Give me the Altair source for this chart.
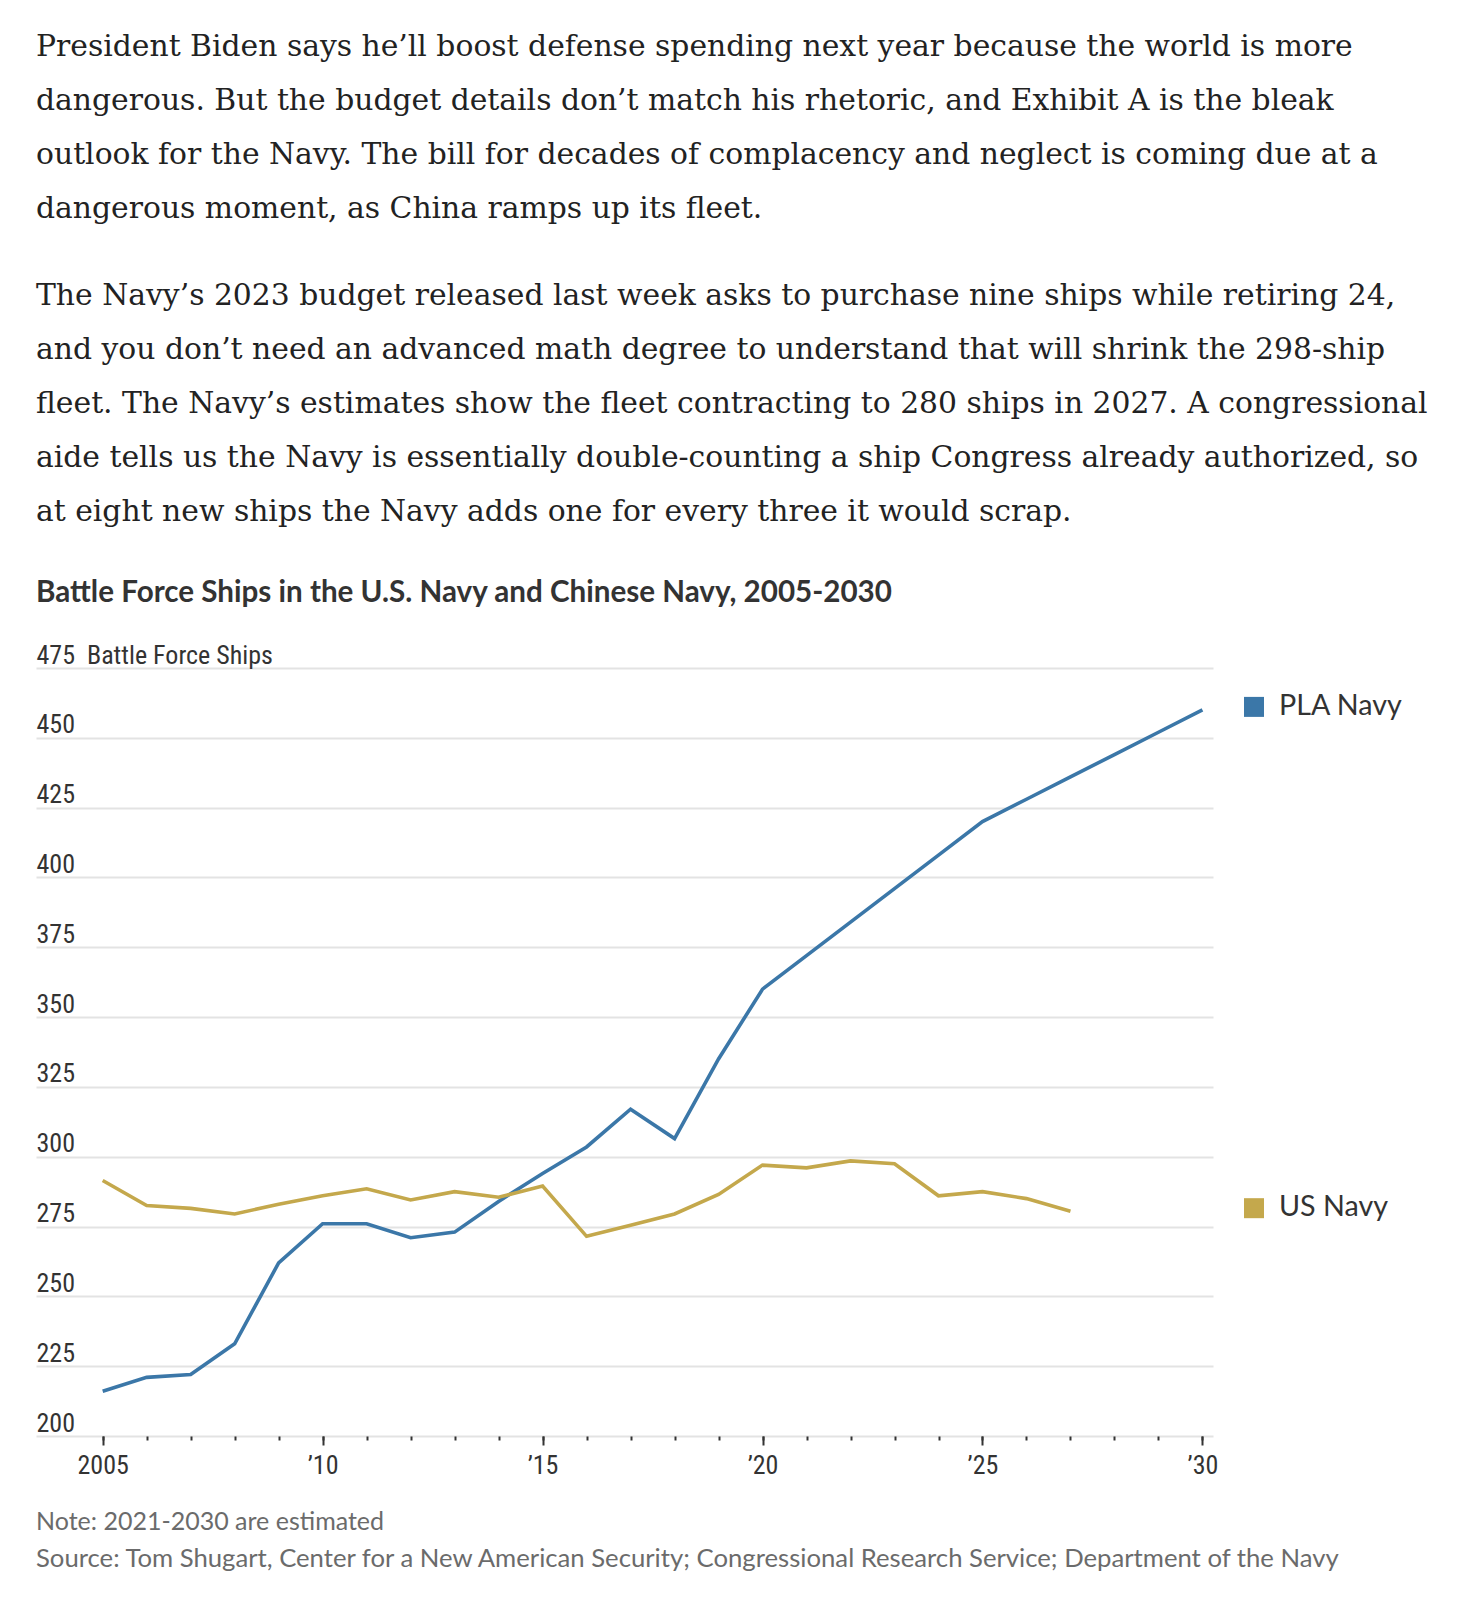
import altair as alt
import pandas as pd

# ---------------- data ----------------
pla_years = list(range(2005, 2031))
pla_ships = [216, 221, 222, 233, 262, 276, 276, 271, 273, 284, 294, 303.5, 317, 306.5,
             335, 360, 372, 384, 396, 408, 420, 428, 436, 444, 452, 460]
us_years = list(range(2005, 2028))
us_ships = [291.5, 282.5, 281.5, 279.5, 283, 286, 288.5, 284.5, 287.5, 285.5, 289.5, 271.5,
            275.5, 279.5, 286.5, 297, 296, 298.5, 297.5, 286, 287.5, 285, 280.5]
navies = ["PLA Navy", "US Navy"]
navy_colors = ["#3b77a8", "#c4a84c"]

major_years = [2005, 2010, 2015, 2020, 2025, 2030]
all_years = list(range(2005, 2031))
y_ticks = list(range(200, 476, 25))

paragraph1 = [
    "President Biden says he\u2019ll boost defense spending next year because the world is more",
    "dangerous. But the budget details don\u2019t match his rhetoric, and Exhibit A is the bleak",
    "outlook for the Navy. The bill for decades of complacency and neglect is coming due at a",
    "dangerous moment, as China ramps up its fleet.",
]
paragraph2 = [
    "The Navy\u2019s 2023 budget released last week asks to purchase nine ships while retiring 24,",
    "and you don\u2019t need an advanced math degree to understand that will shrink the 298-ship",
    "fleet. The Navy\u2019s estimates show the fleet contracting to 280 ships in 2027. A congressional",
    "aide tells us the Navy is essentially double-counting a ship Congress already authorized, so",
    "at eight new ships the Navy adds one for every three it would scrap.",
]
chart_title = "Battle Force Ships in the U.S. Navy and Chinese Navy, 2005-2030"
y_unit = "Battle Force Ships"
note_text = "Note: 2021-2030 are estimated"
source_text = ("Source: Tom Shugart, Center for a New American Security; "
               "Congressional Research Service; Department of the Navy")

df = pd.concat([
    pd.DataFrame({"year": pla_years, "ships": pla_ships, "navy": navies[0]}),
    pd.DataFrame({"year": us_years, "ships": us_ships, "navy": navies[1]}),
], ignore_index=True)

# ---------------- styling ----------------
NARROW = "Liberation Sans Narrow, Roboto Condensed, DejaVu Sans Condensed, Roboto, sans-serif"
SANS = "Lato, Roboto, sans-serif"
SERIF = "DejaVu Serif, serif"
INK = "#333333"
W, H = 1177, 768

x_scale = alt.Scale(domain=[2003.484, 2030.24], nice=False, zero=False)
y_scale = alt.Scale(domain=[200, 475], nice=False, zero=False)

y_axis = alt.Axis(
    values=y_ticks, title=None, grid=True, gridColor="#e3e3e3", gridWidth=2,
    domain=False, ticks=False, tickSize=0, labelPadding=0, labelAlign="left",
    labelBaseline="alphabetic", labelOffset=-5, labelFont=NARROW, labelFontSize=26,
    labelColor=INK, labelLimit=600,
    labelExpr=f"datum.value == 475 ? '475\u00a0\u00a0{y_unit}' : datum.label",
)
major_axis = alt.Axis(
    values=major_years, title=None, grid=False, domain=False, tickSize=9, tickWidth=2,
    tickColor=INK, labelFont=NARROW, labelFontSize=26, labelColor=INK,
    labelBaseline="alphabetic", labelPadding=28, labelFlush=False, orient="bottom",
    labelExpr="datum.value == 2005 ? '2005' : '\u2019' + substring(toString(datum.value), 2, 4)",
)
minor_axis = alt.Axis(
    values=all_years, title=None, grid=False, domain=False, tickSize=4, tickWidth=2,
    tickColor=INK, labels=False, orient="bottom",
)

color_enc = alt.Color("navy:N", scale=alt.Scale(domain=navies, range=navy_colors), legend=None)
y_enc = alt.Y("ships:Q", scale=y_scale, axis=y_axis)

lines = alt.Chart(df).mark_line(strokeWidth=3.6).encode(
    x=alt.X("year:Q", scale=x_scale, axis=major_axis),
    y=y_enc, color=color_enc, detail="navy:N",
)
minor = alt.Chart(df).mark_line(opacity=0).encode(
    x=alt.X("year:Q", scale=x_scale, axis=minor_axis),
    y=y_enc, detail="navy:N",
)

last = alt.Chart(df).transform_joinaggregate(
    maxyear="max(year)", groupby=["navy"]
).transform_filter("datum.year == datum.maxyear")

squares = last.mark_square(size=400, opacity=1, filled=True, yOffset=-3).encode(
    x=alt.value(1218), y=y_enc, color=color_enc,
)
labels = last.mark_text(align="left", baseline="middle", font=SANS, fontSize=28.7,
                        color=INK, yOffset=-4).encode(
    x=alt.value(1243), y=y_enc, text="navy:N",
)


def text_layer(text, y, font, size, color, weight="normal", line_height=None):
    props = dict(text=text, align="left", baseline="alphabetic", font=font,
                 fontSize=size, color=color, fontWeight=weight)
    if line_height:
        props["lineHeight"] = line_height
    return alt.Chart(alt.Data(values=[{}])).mark_text(**props).encode(
        x=alt.value(0), y=alt.value(y))


body1 = text_layer(paragraph1, -612, SERIF, 29.8, "#222222", line_height=54)
body2 = text_layer(paragraph2, -363, SERIF, 29.8, "#222222", line_height=54)
title = text_layer(chart_title, -66, SANS, 29.6, INK, weight="bold")
note = text_layer(note_text, 862, SANS, 25, "#6b6b6b")
source = text_layer(source_text, 899, SANS, 25.7, "#6b6b6b")

chart = alt.layer(
    minor, lines, squares, labels, body1, body2, title, note, source
).resolve_axis(x="independent").properties(
    width=W, height=H, background="white",
    autosize=alt.AutoSizeParams(type="none"),
    padding={"left": 28, "top": 660, "right": 240, "bottom": 150},
).configure_view(stroke=None, strokeWidth=0)

chart.save("out.html", embed_options={"renderer": "svg", "actions": False})
